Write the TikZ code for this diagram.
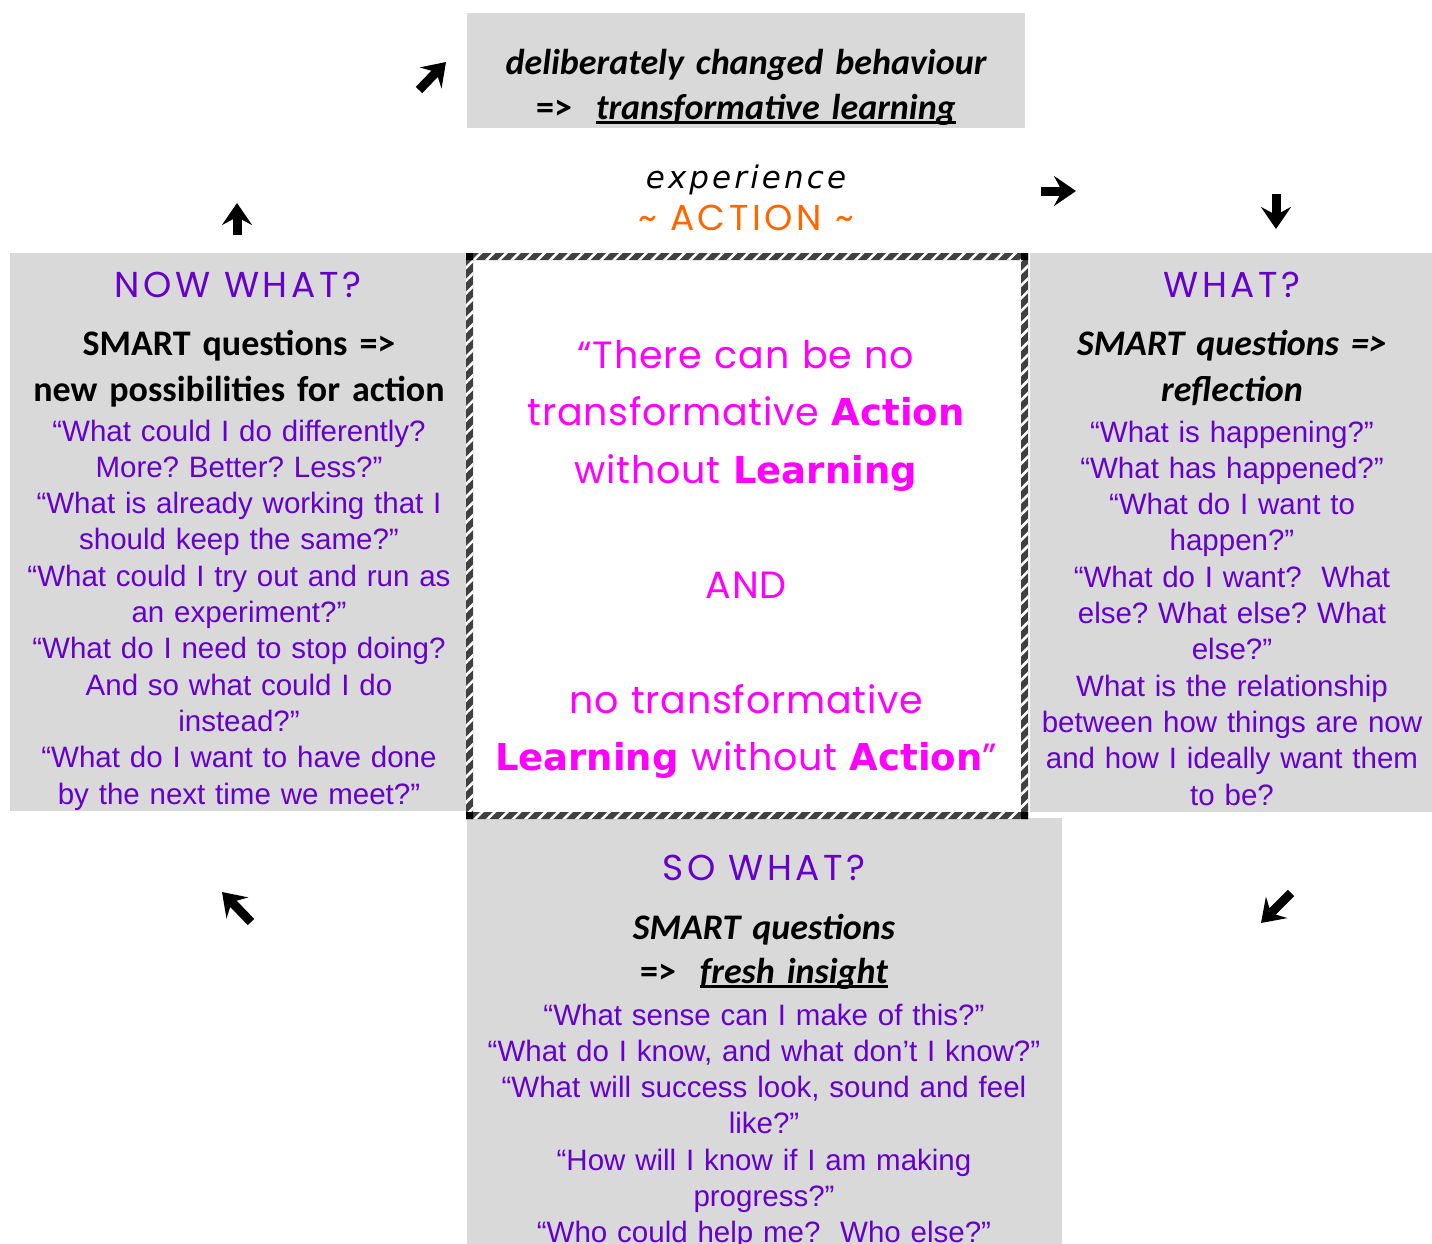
\documentclass[tikz,border=0pt]{standalone}
\usepackage{fontspec}
\usepackage{xcolor}
\setmainfont{Carlito}
\newfontfamily\qfont{Liberation Sans}
\newfontfamily\hfont[LetterSpace=10]{Poppins}
\newfontfamily\hquote[LetterSpace=2]{Poppins}
\newfontfamily\vfont{DejaVu Sans}
\newfontfamily\vwide[LetterSpace=10]{DejaVu Sans}
\usetikzlibrary{arrows.meta, positioning, patterns.meta}
\definecolor{ringGray}{RGB}{217,217,217}
\definecolor{askPurple}{RGB}{102,0,204}
\definecolor{quoteMagenta}{RGB}{255,0,255}
\definecolor{actOrange}{RGB}{255,102,0}
\definecolor{hatchInk}{RGB}{64,64,64}
\frenchspacing
% thick underline for the key phrases
\newcommand{\keyline}[1]{\leavevmode\setbox0=\hbox{#1}\rlap{\rule[-5pt]{\wd0}{2.6pt}}\box0}
\newcommand{\vb}[1]{{\vfont\bfseries\fontsize{37}{57.5}\selectfont #1}}

\begin{document}
\begin{tikzpicture}[
      x=1pt, y=-1pt,
      panel/.style={fill=ringGray, draw=none, inner sep=0pt, outer sep=0pt, anchor=north west},
      head/.style={font=\hfont\fontsize{36}{40}\selectfont, text=askPurple, anchor=base, inner sep=0pt},
      smart/.style={font=\bfseries\fontsize{36}{46}\selectfont, anchor=base, inner sep=0pt, align=center, text width=460pt},
      ask/.style={font=\qfont\fontsize{29.5}{36.3}\selectfont, text=askPurple, anchor=base, inner sep=0pt, align=center, text width=470pt},
      blk/.style={line width=9pt, -{Stealth[length=22pt,width=30pt,inset=8pt]}}
    ]
    \clip (0,0) rectangle (1432,1243);
    \useasboundingbox[fill=white] (0,0) rectangle (1432,1243);

    % grey panels round the frame
    \node[panel, minimum width=558pt, minimum height=115pt] (doBox) at (467,13) {};
    \node[panel, minimum width=456pt, minimum height=558pt] (nowBox) at (10,253) {};
    \node[panel, minimum width=402pt, minimum height=559pt] (whatBox) at (1030,253) {};
    \node[panel, minimum width=595pt, minimum height=440pt] (soBox) at (467,818) {};

    % hatched frame in the middle
    \fill[hatchInk, even odd rule] (466,253) rectangle (1028,819) (473,260) rectangle (1021,812);
    \fill[pattern={Lines[angle=45,distance=9pt,line width=2.6pt]}, pattern color=white, even odd rule]
      (466,253) rectangle (1028,819) (473,260) rectangle (1021,812);
    \fill[black] (466,253) rectangle (473,260) (1021,253) rectangle (1028,260)
      (466,812) rectangle (473,819) (1021,812) rectangle (1028,819);

    % top panel
    \node[smart, text width=560pt, font=\bfseries\itshape\fontsize{36}{45}\selectfont] (doText) at (746,74)
      {deliberately changed behaviour\\{\upshape =>}\ \ \keyline{transformative learning}};

    % experience ~ ACTION ~
    \node[anchor=base, inner sep=0pt, font=\vwide\itshape\fontsize{31}{36}\selectfont] (exp) at (746,188) {experience};
    \node[anchor=base, inner sep=0pt, font=\hfont\fontsize{36}{40}\selectfont, text=actOrange] (act) at (746,230) {\char`~\ ACTION \char`~};

    % central quote
    \node[anchor=base, inner sep=0pt, align=center, text width=540pt, text=quoteMagenta,
      font=\hquote\fontsize{38}{57.5}\selectfont] (quote) at (746,368)
      {“There can be no\\
       transformative \vb{Action}\\
       without \vb{Learning}\\[57.5pt]
       AND\\[57.5pt]
       no transformative\\
       \vb{Learning} without \vb{Action}”};

    % NOW WHAT?
    \node[head] (nowHead) at (238,297) {NOW WHAT?};
    \node[smart] (nowSmart) at (239,355) {SMART questions =>\\new possibilities for action};
    \node[ask] (nowAsk) at (239,441)
      {“What could I do differently?\\
       More? Better? Less?”\\
       “What is already working that I\\
       should keep the same?”\\
       “What could I try out and run as\\
       an experiment?”\\
       “What do I need to stop doing?\\
       And so what could I do\\
       instead?”\\
       “What do I want to have done\\
       by the next time we meet?”};

    % WHAT?
    \node[head] (whatHead) at (1232,297) {WHAT?};
    \node[smart, font=\bfseries\itshape\fontsize{36}{46}\selectfont] (whatSmart) at (1232,355) {SMART questions =>\\reflection};
    \node[ask, text width=420pt] (whatAsk) at (1232,442)
      {“What is happening?”\\
       “What has happened?”\\
       “What do I want to\\
       happen?”\\
       “What do I want?\ \ What\\
       else? What else? What\\
       else?”\\
       What is the relationship\\
       between how things are now\\
       and how I ideally want them\\
       to be?};

    % SO WHAT?
    \node[head] (soHead) at (764,880) {SO WHAT?};
    \node[smart, font=\bfseries\itshape\fontsize{36}{44}\selectfont] (soSmart) at (764,939)
      {SMART questions\\{\upshape =>}\ \ \keyline{fresh insight}};
    \node[ask, text width=600pt] (soAsk) at (764,1025)
      {“What sense can I make of this?”\\
       “What do I know, and what don’t I know?”\\
       “What will success look, sound and feel\\
       like?”\\
       “How will I know if I am making\\
       progress?”\\
       “Who could help me?\ \ Who else?”};

    % block arrows round the cycle
    \coordinate (a1s) at (419,90);   \coordinate (a1e) at (446,62);
    \coordinate (a2s) at (237,235);  \coordinate (a2e) at (237,203);
    \coordinate (a3s) at (1041,191); \coordinate (a3e) at (1076,191);
    \coordinate (a4s) at (1276,194); \coordinate (a4e) at (1276,229);
    \coordinate (a5s) at (251,922);  \coordinate (a5e) at (222,892);
    \coordinate (a6s) at (1291,893); \coordinate (a6e) at (1261,923);
    \foreach \i in {1,...,6}
      \draw[blk] (a\i s) -- (a\i e);
  \end{tikzpicture}
\end{document}
